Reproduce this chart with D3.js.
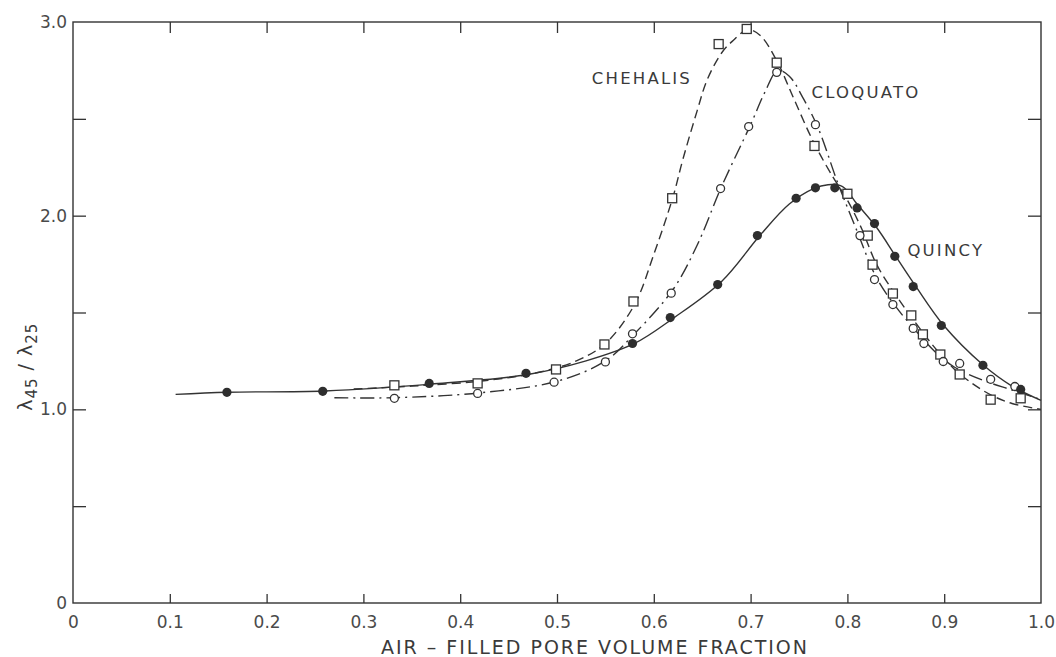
<!DOCTYPE html>
<html>
<head>
<meta charset="utf-8">
<script src="https://cdn.jsdelivr.net/npm/d3@7"></script>
<style>
  body { margin: 0; background: #fff; }
  text { font-family: "DejaVu Sans", sans-serif; fill: #3a3a3a; }
  .tick text { font-size: 17px; fill: #4a4a4a; }
  .tick line { stroke: #333; stroke-width: 1.3; }
</style>
</head>
<body>
<div id="chart"></div>
<script>
// tick values
const xTicks = [0, 0.1, 0.2, 0.3, 0.4, 0.5, 0.6, 0.7, 0.8, 0.9, 1.0];
const xTickLabels = ['0', '0.1', '0.2', '0.3', '0.4', '0.5', '0.6', '0.7', '0.8', '0.9', '1.0'];
const yLabelTicks = [0, 1, 2, 3];
const yLabelText = ['0', '1.0', '2.0', '3.0'];
const yMinorTicks = [0.5, 1, 1.5, 2, 2.5];

// measured points [fraction, ratio]
const quincyPoints = [[0.159, 1.088], [0.258, 1.093], [0.368, 1.134], [0.468, 1.186], [0.578, 1.34],
    [0.617, 1.474], [0.666, 1.644], [0.707, 1.897], [0.747, 2.09], [0.767, 2.144], [0.787, 2.144],
    [0.81, 2.04], [0.828, 1.959], [0.849, 1.79], [0.868, 1.634], [0.897, 1.433], [0.94, 1.227], [0.979, 1.103]];
const chehalisPoints = [[0.332, 1.124], [0.418, 1.134], [0.499, 1.206], [0.549, 1.335], [0.579, 1.557],
    [0.619, 2.09], [0.667, 2.886], [0.696, 2.964], [0.727, 2.79], [0.766, 2.36], [0.80, 2.113],
    [0.821, 1.897], [0.826, 1.747], [0.847, 1.598], [0.866, 1.485], [0.878, 1.387], [0.896, 1.283],
    [0.916, 1.18], [0.948, 1.05], [0.979, 1.057]];
const cloquatoPoints = [[0.332, 1.057], [0.418, 1.082], [0.497, 1.14], [0.55, 1.245], [0.578, 1.39],
    [0.618, 1.60], [0.669, 2.14], [0.698, 2.46], [0.727, 2.74], [0.767, 2.47], [0.813, 1.897],
    [0.828, 1.67], [0.847, 1.541], [0.868, 1.418], [0.879, 1.34], [0.899, 1.247], [0.916, 1.237],
    [0.948, 1.155], [0.973, 1.118]];

// hand drawn fitted curves
const quincyCurve = [[0.106, 1.077], [0.16, 1.088], [0.26, 1.095], [0.37, 1.13], [0.47, 1.18], [0.53, 1.25],
    [0.58, 1.34], [0.62, 1.47], [0.67, 1.66], [0.71, 1.9], [0.74, 2.06], [0.765, 2.14], [0.78, 2.16],
    [0.795, 2.15], [0.81, 2.06], [0.83, 1.94], [0.85, 1.79], [0.87, 1.64], [0.90, 1.43], [0.94, 1.23],
    [0.97, 1.12], [1.0, 1.046]];
const chehalisCurve = [[0.29, 1.105], [0.35, 1.12], [0.42, 1.145], [0.48, 1.19], [0.52, 1.25], [0.55, 1.34],
    [0.58, 1.54], [0.60, 1.8], [0.62, 2.1], [0.63, 2.29], [0.645, 2.545], [0.655, 2.70], [0.67, 2.84],
    [0.681, 2.90], [0.697, 2.96], [0.71, 2.93], [0.727, 2.80], [0.745, 2.6], [0.765, 2.38], [0.785, 2.2],
    [0.80, 2.08], [0.815, 1.93], [0.83, 1.75], [0.85, 1.59], [0.87, 1.45], [0.89, 1.32], [0.91, 1.21],
    [0.93, 1.13], [0.95, 1.07], [0.97, 1.03], [1.0, 1.0]];
const cloquatoCurve = [[0.27, 1.06], [0.33, 1.06], [0.42, 1.085], [0.50, 1.145], [0.55, 1.25], [0.58, 1.39],
    [0.62, 1.62], [0.645, 1.85], [0.67, 2.15], [0.70, 2.47], [0.715, 2.64], [0.728, 2.75], [0.74, 2.72],
    [0.755, 2.6], [0.77, 2.45], [0.79, 2.17], [0.81, 1.92], [0.83, 1.68], [0.85, 1.53], [0.87, 1.41],
    [0.89, 1.30], [0.91, 1.22], [0.94, 1.15], [0.97, 1.10], [1.0, 1.05]];

const seriesLabels = [
    {name: 'CHEHALIS', at: [0.536, 2.68]},
    {name: 'CLOQUATO', at: [0.763, 2.61]},
    {name: 'QUINCY', at: [0.862, 1.79]}
];

const W = 1056, H = 657;
const margin = {top: 22, right: 15, bottom: 54, left: 73};
const width = W - margin.left - margin.right;
const height = H - margin.top - margin.bottom;

const svg = d3.select('#chart').append('svg')
    .attr('width', W)
    .attr('height', H)
    .append('g')
    .attr('transform', `translate(${margin.left},${margin.top})`);

const x = d3.scaleLinear().domain([0, 1]).range([0, width]);
const y = d3.scaleLinear().domain([0, 3]).range([height, 0]);

// frame
svg.append('rect')
    .attr('x', 0).attr('y', 0)
    .attr('width', width).attr('height', height)
    .attr('fill', 'none')
    .attr('stroke', '#333')
    .attr('stroke-width', 1.4);

// bottom axis: labels + short inward ticks
const bottomAxis = svg.append('g')
    .attr('transform', `translate(0,${height})`)
    .call(d3.axisBottom(x).tickValues(xTicks).tickSizeInner(-9).tickSizeOuter(0)
        .tickPadding(13).tickFormat((d, i) => xTickLabels[i]));
bottomAxis.select('.domain').remove();
bottomAxis.selectAll('.tick line').filter(d => d === 0 || d === 1).remove();
bottomAxis.selectAll('.tick text').attr('font-size', 17).style('font-family', '"DejaVu Sans", sans-serif');

// top ticks
const topAxis = svg.append('g')
    .call(d3.axisTop(x).tickValues(xTicks.slice(1, -1)).tickSizeInner(-11).tickSizeOuter(0).tickFormat(''));
topAxis.select('.domain').remove();

// left axis
const leftAxis = svg.append('g')
    .call(d3.axisLeft(y).tickValues(yMinorTicks).tickSizeInner(-13).tickSizeOuter(0).tickFormat(''));
leftAxis.select('.domain').remove();

svg.append('g').selectAll('text')
    .data(yLabelTicks)
    .enter()
    .append('text')
    .attr('x', -6)
    .attr('y', d => y(d))
    .attr('dy', '0.35em')
    .attr('text-anchor', 'end')
    .style('font-size', '17px')
    .style('fill', '#4a4a4a')
    .text((d, i) => yLabelText[i]);

// right ticks
const rightAxis = svg.append('g')
    .attr('transform', `translate(${width},0)`)
    .call(d3.axisRight(y).tickValues(yMinorTicks).tickSizeInner(-13).tickSizeOuter(0).tickFormat(''));
rightAxis.select('.domain').remove();

// axis titles
svg.append('text')
    .attr('x', 381 - margin.left)
    .attr('y', height + 51)
    .attr('textLength', 426)
    .attr('lengthAdjust', 'spacing')
    .style('font-size', '19px')
    .text('AIR – FILLED PORE VOLUME FRACTION');

const yTitle = svg.append('text')
    .attr('transform', `translate(${-41},${y(1.22)}) rotate(-90)`)
    .attr('text-anchor', 'middle')
    .style('font-size', '19px')
    .style('letter-spacing', '1px');
yTitle.append('tspan').text('λ');
yTitle.append('tspan').attr('dy', 5).style('font-size', '15px').text('45');
yTitle.append('tspan').attr('dy', -5).text(' / λ');
yTitle.append('tspan').attr('dy', 5).style('font-size', '15px').text('25');

// curves
const line = d3.line()
    .x(d => x(d[0]))
    .y(d => y(d[1]))
    .curve(d3.curveCatmullRom.alpha(0.5));

const curves = [
    {data: quincyCurve, dash: null},
    {data: chehalisCurve, dash: '9,5'},
    {data: cloquatoCurve, dash: '14,5,2,5'}
];

svg.selectAll('.curve')
    .data(curves)
    .enter()
    .append('path')
    .attr('class', 'curve')
    .attr('d', d => line(d.data))
    .attr('fill', 'none')
    .attr('stroke', '#333')
    .attr('stroke-width', 1.4)
    .attr('stroke-dasharray', d => d.dash);

// markers
svg.selectAll('.sq')
    .data(chehalisPoints)
    .enter()
    .append('rect')
    .attr('class', 'sq')
    .attr('x', d => x(d[0]) - 4.5)
    .attr('y', d => y(d[1]) - 4.5)
    .attr('width', 9)
    .attr('height', 9)
    .attr('fill', '#fff')
    .attr('stroke', '#333')
    .attr('stroke-width', 1.3);

svg.selectAll('.open')
    .data(cloquatoPoints)
    .enter()
    .append('circle')
    .attr('class', 'open')
    .attr('cx', d => x(d[0]))
    .attr('cy', d => y(d[1]))
    .attr('r', 4)
    .attr('fill', '#fff')
    .attr('stroke', '#333')
    .attr('stroke-width', 1.3);

svg.selectAll('.dot')
    .data(quincyPoints)
    .enter()
    .append('circle')
    .attr('class', 'dot')
    .attr('cx', d => x(d[0]))
    .attr('cy', d => y(d[1]))
    .attr('r', 4.6)
    .attr('fill', '#2e2e2e');

// series names
svg.selectAll('.series-label')
    .data(seriesLabels)
    .enter()
    .append('text')
    .attr('class', 'series-label')
    .attr('x', d => x(d.at[0]))
    .attr('y', d => y(d.at[1]))
    .style('font-size', '16.5px')
    .style('letter-spacing', '2.2px')
    .text(d => d.name);
</script>
</body>
</html>
